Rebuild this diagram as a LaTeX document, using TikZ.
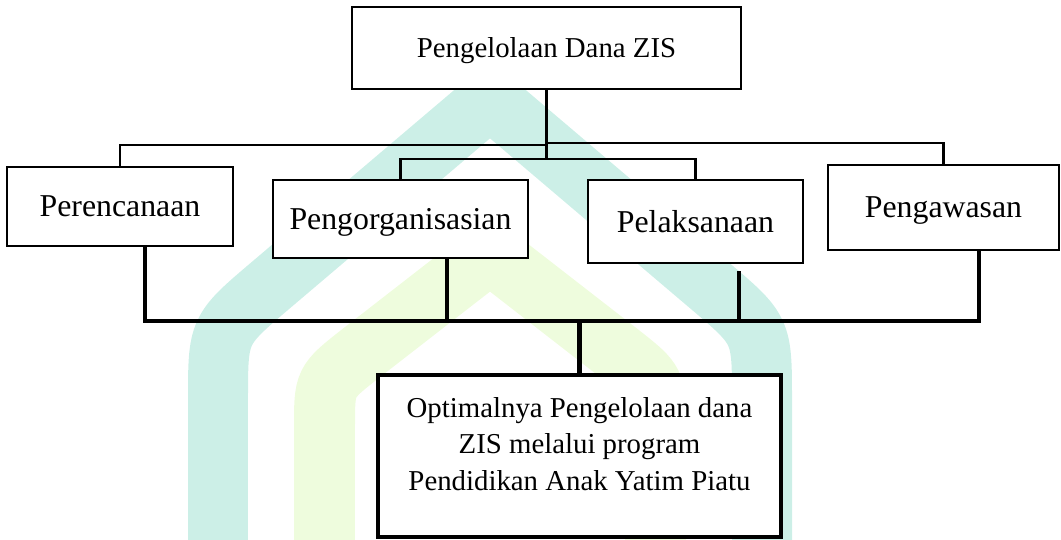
\documentclass[tikz,border=0pt]{standalone}
\usepackage{fontspec}
\setmainfont{Liberation Serif}
\definecolor{tosca}{HTML}{CCEFE7}
\definecolor{hijaumuda}{HTML}{EEFCDD}
\begin{document}
\begin{tikzpicture}[x=0.02cm,y=-0.02cm,
	kotak/.style={draw,fill=white,line width=1.4pt,inner sep=0pt,text depth=0pt,font=\fontsize{18.1}{22}\selectfont},
	tipis/.style={line width=1.4pt},
	tebal/.style={line width=2.7pt}]
	\useasboundingbox (0,0) rectangle (1061,540);

	\draw[tosca,line width=1.2cm,line join=miter] (218,540) -- (218,400) .. controls (218,330) .. (271,285) -- (490,99) -- (709,285) .. controls (762,330) .. (762,400) -- (762,540);
	\draw[hijaumuda,line width=1.22cm,line join=miter] (324.5,540) -- (324.5,427) .. controls (324.5,382) .. (360,354) -- (490,253) -- (620,354) .. controls (655.5,382) .. (655.5,427) -- (655.5,540);

	\node[kotak,minimum width=7.78cm,minimum height=1.64cm,font=\fontsize{16.4}{20}\selectfont] (atas) at (546.5,48) {Pengelolaan Dana ZIS};
	\node[kotak,minimum width=4.52cm,minimum height=1.58cm] (perencanaan) at (120,206.5) {Perencanaan};
	\node[kotak,minimum width=5.10cm,minimum height=1.56cm] (pengorganisasian) at (400.5,219) {Pengorganisasian};
	\node[kotak,minimum width=4.30cm,minimum height=1.66cm] (pelaksanaan) at (695.5,221.5) {Pelaksanaan};
	\node[kotak,minimum width=4.62cm,minimum height=1.70cm] (pengawasan) at (943.5,207.5) {Pengawasan};
	\node[kotak,line width=2.7pt,minimum width=8.06cm,minimum height=3.24cm] (hasil) at (579.5,456) {};
	\node[align=center,anchor=north,inner sep=0pt,font=\fontsize{16.4}{20.7}\selectfont] (hasilteks) at (hasil.north |- 0,397) {Optimalnya Pengelolaan dana\\ZIS melalui program\\Pendidikan Anak Yatim Piatu};

	\draw[tipis] (pengorganisasian.north) -- ++(0,-20) coordinate (simpul) -| (pelaksanaan.north);
	\draw[tipis] (atas.south) -- (atas.south |- simpul);
	\draw[tipis] (perencanaan.north) -- ++(0,-21) -| (atas.south);
	\draw[tipis] (pengawasan.north) -- ++(0,-21) -| (atas.south);

	\coordinate (bus) at (579.5,321);
	\draw[tebal] ([xshift=0.5cm]perencanaan.south) |- (bus) -| ([xshift=0.71cm]pengawasan.south);
	\foreach \kotak/\geser/\jarak in {pengorganisasian/0.93cm/0cm, pelaksanaan/0.87cm/-0.14cm}
		\draw[tebal] ([xshift=\geser,yshift=\jarak]\kotak.south) -- ([xshift=\geser]\kotak.south |- bus);
	\draw[tebal] (bus) -- (hasil.north);
\end{tikzpicture}
\end{document}
